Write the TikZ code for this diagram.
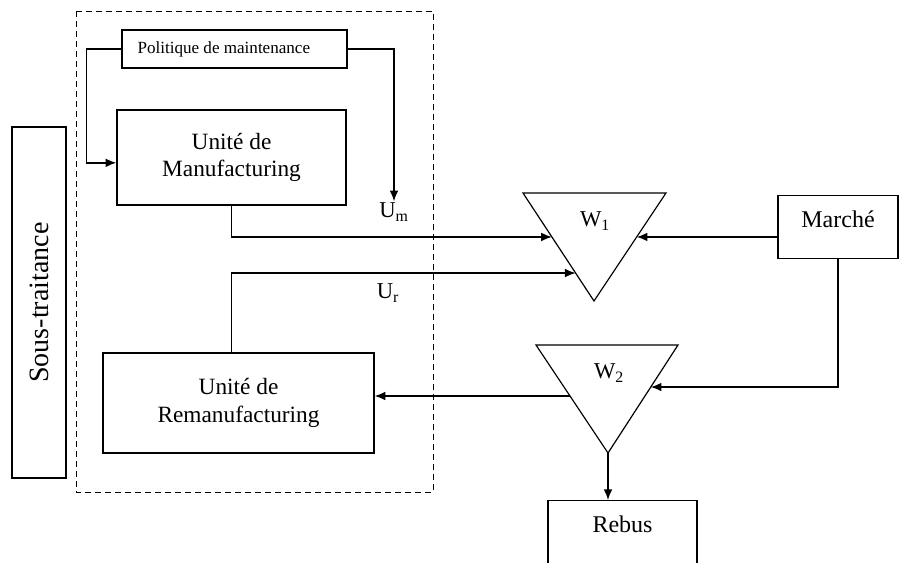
\documentclass[tikz,border=0pt]{standalone}
\usepackage{fontspec}
\setmainfont{Liberation Serif}
\usetikzlibrary{arrows, arrows.meta, positioning, calc}

\begin{document}
\begin{tikzpicture} [
        x = 0.75pt, y = -0.75pt,
        box/.style = {draw, rectangle, line width=1pt, align=center},
        edge/.style = {draw, -{Latex[length=8pt, width=6.5pt]}, line width=1pt},
        plain/.style = {draw, line width=0.9pt},
        big/.style = {font=\fontsize{17.5}{20.5}\selectfont},
        tag/.style = {font=\fontsize{17}{20}\selectfont, inner sep=1pt}
    ]

    \useasboundingbox (0,0) rectangle (899,562);

    % frame around the two units
    \draw[line width=0.7pt, dash pattern=on 4.5pt off 3pt] (76,11) rectangle (433,492);

    \node[box, rotate=90, minimum width=263.25pt, minimum height=40.5pt, font=\fontsize{21}{24}\selectfont] (sous) at (39,302.5) {Sous-traitance};
    \node[box, minimum width=168.75pt, minimum height=28.5pt, font=\fontsize{12.8}{15}\selectfont] (pol) at (234.5,49) {Politique de maintenance\hspace*{16pt}};
    \node[box, big, minimum width=171.75pt, minimum height=71.25pt] (manuf) at (231.5,157.5) {Unité de\\Manufacturing};
    \node[box, big, minimum width=203.25pt, minimum height=75pt] (reman) at (238.5,403) {Unité de\\Remanufacturing};
    \node[box, font=\fontsize{18}{21}\selectfont, anchor=north, inner ysep=6pt, minimum width=90pt, text height=18pt, text depth=17.25pt] (marche) at (838,195) {Marché};
    \node[box, font=\fontsize{18}{21}\selectfont, anchor=north, inner ysep=6pt, minimum width=111.75pt, text height=18pt, text depth=60pt] (rebus) at (622.5,500) {Rebus};

    % stocks
    \coordinate (w1l) at (523,193);
    \coordinate (w1r) at (666,193);
    \coordinate (w1b) at (594,301);
    \draw[plain] (w1l) -- (w1r) -- (w1b) -- cycle;
    \node[tag] (w1) at (595,221) {W\textsubscript{1}};

    \coordinate (w2l) at (536,345);
    \coordinate (w2r) at (678,345);
    \coordinate (w2b) at (608,453);
    \draw[plain] (w2l) -- (w2r) -- (w2b) -- cycle;
    \node[tag] (w2) at (609,373) {W\textsubscript{2}};

    \coordinate (w1um) at ($(w1l)!0.407!(w1b)$);
    \coordinate (w1ur) at ($(w1l)!0.741!(w1b)$);
    \coordinate (w1d)  at ($(w1r)!0.407!(w1b)$);
    \coordinate (w2d)  at ($(w2r)!0.389!(w2b)$);
    \coordinate (w2out) at ($(w2l)!0.472!(w2b)$);

    \node[tag] (um) at (394,212) {U\textsubscript{m}};
    \node[tag] (ur) at (388,293) {U\textsubscript{r}};

    % flows
    \draw[edge] (pol.west) -- ++(-35,0) |- ([yshift=-4pt]manuf.west);
    \draw[edge] (pol.east) -| (um);
    \draw[edge] (manuf.south) |- (w1um);
    \draw[edge] (reman.north -| manuf.south) |- (w1ur);
    \draw[edge] (w1d -| marche.west) -- (w1d);
    \draw[edge] (marche.south) |- (w2d);
    \draw[edge] (w2out) -- (w2out -| reman.east);
    \draw[edge] (w2b) -- (w2b |- rebus.north);

\end{tikzpicture}
\end{document}
